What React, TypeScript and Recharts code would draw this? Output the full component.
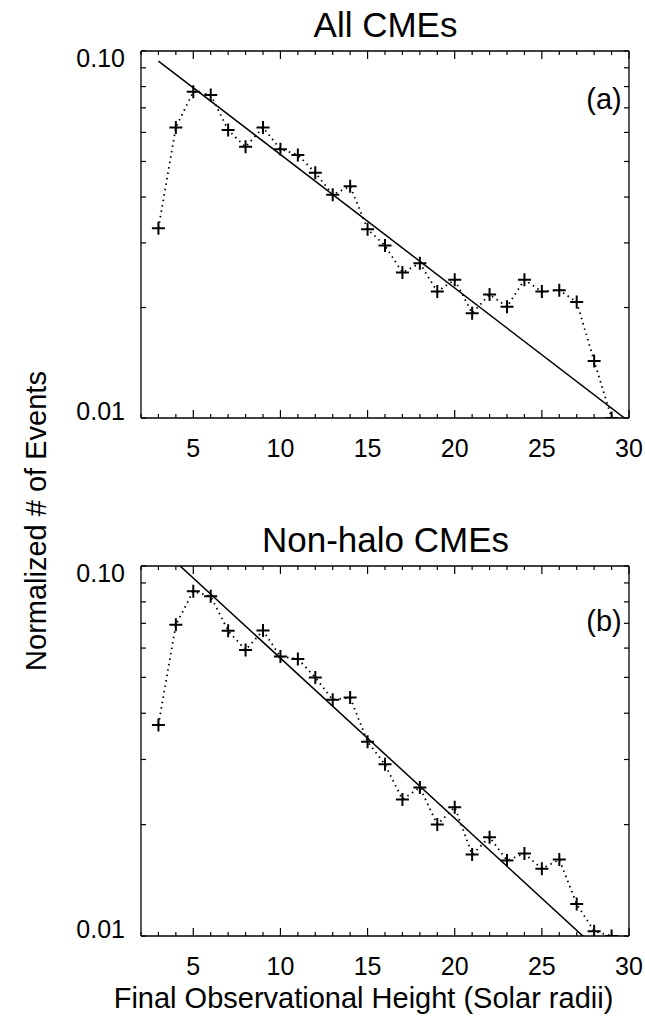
import React from 'react';
import { LineChart, Line, XAxis, YAxis } from 'recharts';

// Final observational height (solar radii)
const heights = [3, 4, 5, 6, 7, 8, 9, 10, 11, 12, 13, 14, 15, 16, 17, 18, 19, 20, 21, 22, 23, 24, 25, 26, 27, 28, 29];

// Normalized # of events, panel (a) All CMEs
const allCMEs = [0.0329, 0.0619, 0.0775, 0.0759, 0.0609, 0.0548, 0.0619, 0.054, 0.0521, 0.0466, 0.0406, 0.0428, 0.0327,
  0.0295, 0.0249, 0.0264, 0.0221, 0.0238, 0.0193, 0.0217, 0.0201, 0.0238, 0.0221, 0.0223, 0.0207, 0.0143, 0.01];

// Normalized # of events, panel (b) Non-halo CMEs
const nonHaloCMEs = [0.0372, 0.0694, 0.0854, 0.0828, 0.0668, 0.0593, 0.0669, 0.0569, 0.0561, 0.05, 0.0435, 0.0441, 0.0335,
  0.0291, 0.0234, 0.0252, 0.02, 0.0223, 0.0166, 0.0185, 0.016, 0.0167, 0.0152, 0.0161, 0.0122, 0.0103, 0.01];

// Exponential fit lines (end points)
const fitHeights = [3, 30];
const fitAll = [0.0939, 0.00978];
const fitNonHalo = [0.1132, 0.00768];

const xTicks = [2, 3, 4, 5, 6, 7, 8, 9, 10, 11, 12, 13, 14, 15, 16, 17, 18, 19, 20, 21, 22, 23, 24, 25, 26, 27, 28, 29, 30];
const xLabelTicks = [5, 10, 15, 20, 25, 30];
const yTicks = [0.01, 0.02, 0.03, 0.04, 0.05, 0.06, 0.07, 0.08, 0.09, 0.1];
const yTickLabels: Record<string, string> = { '0.01': '0.01', '0.1': '0.10' };

const FONT = '"Liberation Sans", Arial, Helvetica, sans-serif';

const toPoints = (xs: number[], ys: number[]) => xs.map((x, i) => ({ x, y: ys[i] }));

const Plus = (props: any) => {
  const { cx, cy } = props;
  if (cx == null || cy == null) return null;
  const h = 6.5;
  return (
    <path
      d={`M${cx - h},${cy}H${cx + h}M${cx},${cy - h}V${cy + h}`}
      stroke="#000"
      strokeWidth={2}
      fill="none"
    />
  );
};

const BottomTick = (props: any) => {
  const { x, y, payload } = props;
  const v = payload.value;
  const major = xLabelTicks.includes(v);
  return (
    <g>
      <line x1={x} x2={x} y1={y} y2={y - (major ? 8 : 4)} stroke="#000" strokeWidth={1.2} />
      {major && (
        <text x={x} y={y + 39} textAnchor="middle" fontSize={25} fontFamily={FONT} fill="#000">
          {v}
        </text>
      )}
    </g>
  );
};

const TopTick = (props: any) => {
  const { x, y, payload } = props;
  const major = xLabelTicks.includes(payload.value);
  return <line x1={x} x2={x} y1={y} y2={y + (major ? 8 : 4)} stroke="#000" strokeWidth={1.2} />;
};

const LeftTick = (props: any) => {
  const { x, y, payload } = props;
  const label = yTickLabels[String(payload.value)];
  const isTop = payload.value === 0.1;
  return (
    <g>
      <line x1={x} x2={x + 5} y1={y} y2={y} stroke="#000" strokeWidth={1.2} />
      {label && (
        <text x={x - 16} y={y + (isTop ? 16 : 2)} textAnchor="end" fontSize={25} fontFamily={FONT} fill="#000">
          {label}
        </text>
      )}
    </g>
  );
};

const RightTick = (props: any) => {
  const { x, y } = props;
  return <line x1={x} x2={x - 5} y1={y} y2={y} stroke="#000" strokeWidth={1.2} />;
};

const AXIS_LINE = { stroke: '#000', strokeWidth: 1.3 };

const Panel = ({ data, fit, height, marginTop, marginBottom }: any) => (
  <LineChart
    width={645}
    height={height}
    margin={{ top: marginTop - 1, right: 15, bottom: marginBottom - 1, left: 140 }}
  >
    <XAxis
      xAxisId="bottom"
      type="number"
      dataKey="x"
      domain={[2, 30]}
      ticks={xTicks}
      interval={0}
      height={1}
      tickSize={0}
      tickMargin={0}
      tickLine={false}
      axisLine={AXIS_LINE}
      tick={<BottomTick />}
      allowDataOverflow
    />
    <XAxis
      xAxisId="top"
      orientation="top"
      type="number"
      dataKey="x"
      domain={[2, 30]}
      ticks={xTicks}
      interval={0}
      height={1}
      tickSize={0}
      tickMargin={0}
      tickLine={false}
      axisLine={AXIS_LINE}
      tick={<TopTick />}
      allowDataOverflow
    />
    <YAxis
      yAxisId="left"
      scale="log"
      type="number"
      domain={[0.01, 0.1]}
      ticks={yTicks}
      interval={0}
      width={1}
      tickSize={0}
      tickMargin={0}
      tickLine={false}
      axisLine={AXIS_LINE}
      tick={<LeftTick />}
      allowDataOverflow
    />
    <YAxis
      yAxisId="right"
      orientation="right"
      scale="log"
      type="number"
      domain={[0.01, 0.1]}
      ticks={yTicks}
      interval={0}
      width={1}
      tickSize={0}
      tickMargin={0}
      tickLine={false}
      axisLine={AXIS_LINE}
      tick={<RightTick />}
      allowDataOverflow
    />
    <Line
      xAxisId="bottom"
      yAxisId="left"
      data={toPoints(fitHeights, fit)}
      dataKey="y"
      type="linear"
      stroke="#000"
      strokeWidth={1.5}
      dot={false}
      isAnimationActive={false}
    />
    <Line
      xAxisId="bottom"
      yAxisId="left"
      data={toPoints(heights, data)}
      dataKey="y"
      type="linear"
      stroke="#000"
      strokeWidth={1.8}
      strokeDasharray="1.5 4"
      dot={<Plus />}
      isAnimationActive={false}
    />
  </LineChart>
);

export default function App() {
  return (
    <div style={{ position: 'absolute', left: 0, top: 0, width: 645, height: 1017, background: '#fff' }}>
      <div style={{ position: 'absolute', left: 0, top: 0 }}>
        <Panel data={allCMEs} fit={fitAll} height={480} marginTop={51} marginBottom={62} />
      </div>
      <div style={{ position: 'absolute', left: 0, top: 480 }}>
        <Panel data={nonHaloCMEs} fit={fitNonHalo} height={537} marginTop={86} marginBottom={81} />
      </div>
      <svg
        width={645}
        height={1017}
        style={{ position: 'absolute', left: 0, top: 0, pointerEvents: 'none' }}
      >
        <text x={385.5} y={37} textAnchor="middle" fontSize={35} fontFamily={FONT} fill="#000">
          All CMEs
        </text>
        <text x={385.5} y={552} textAnchor="middle" fontSize={35} fontFamily={FONT} fill="#000">
          Non-halo CMEs
        </text>
        <text x={363.5} y={1008} textAnchor="middle" fontSize={29} fontFamily={FONT} fill="#000">
          Final Observational Height (Solar radii)
        </text>
        <text
          x={46}
          y={521}
          textAnchor="middle"
          fontSize={29}
          fontFamily={FONT}
          fill="#000"
          transform="rotate(-90 46 521)"
        >
          Normalized # of Events
        </text>
        <text x={604} y={109} textAnchor="middle" fontSize={29} fontFamily={FONT} fill="#000">
          (a)
        </text>
        <text x={604} y={631} textAnchor="middle" fontSize={29} fontFamily={FONT} fill="#000">
          (b)
        </text>
      </svg>
    </div>
  );
}
